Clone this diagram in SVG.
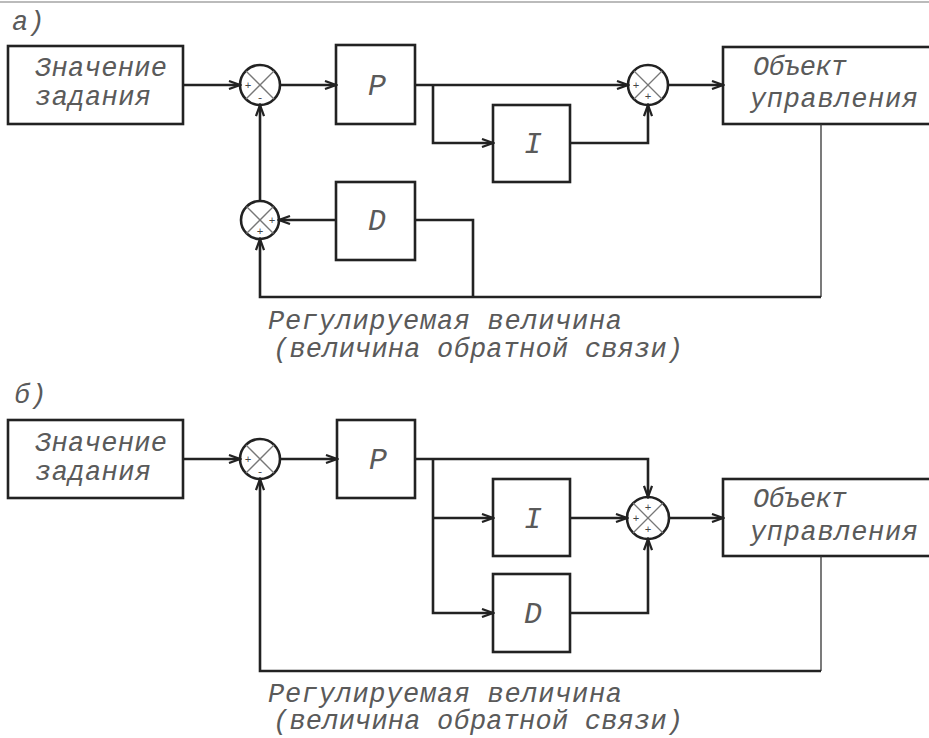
<svg xmlns="http://www.w3.org/2000/svg" width="929" height="738" viewBox="0 0 929 738">
<style>
.bg{fill:#fff}
.box{fill:#fff;stroke:#222;stroke-width:2.6}
.sum circle{fill:#fff;stroke:#222;stroke-width:2.6}
.sum line{stroke:#777;stroke-width:1.3}
.sign{font-family:"Liberation Mono","DejaVu Sans Mono",monospace;font-size:11px;fill:#444;text-anchor:middle}
.t{font-family:"Liberation Mono","DejaVu Sans Mono",monospace;font-style:italic;font-size:27px;fill:#5a5a5a}
.big{font-family:"Liberation Mono","DejaVu Sans Mono",monospace;font-style:italic;font-size:30px;fill:#5a5a5a;text-anchor:middle}
.w{fill:none;stroke:#222;stroke-width:2.6}
.thin{fill:none;stroke:#333;stroke-width:1.3}
.a{marker-end:url(#arr)}
</style>
<defs>
<marker id="arr" markerWidth="14" markerHeight="10" refX="12" refY="5" orient="auto" markerUnits="userSpaceOnUse">
<path d="M1,1 L12,5 L1,9" fill="none" stroke="#222" stroke-width="2.2"/>
</marker>
</defs>
<rect class="bg" x="0" y="0" width="929" height="738"/>
<line x1="0" y1="2" x2="929" y2="2" stroke="#bbb" stroke-width="2"/>

<text class="t" x="12" y="30">а)</text>
<text class="t" x="14" y="403">б)</text>

<!-- part a nodes -->
<g id="a-setpoint"><rect class="box" x="8" y="46" width="175" height="78"/>
<text class="t" x="35" y="76" textLength="132" lengthAdjust="spacing">Значение</text>
<text class="t" x="35" y="105" textLength="116" lengthAdjust="spacing">задания</text></g>
<g id="a-sum1" class="sum"><circle cx="260" cy="85" r="20"/><line x1="246" y1="71" x2="274" y2="99"/><line x1="274" y1="71" x2="246" y2="99"/>
<text class="sign" x="248" y="89">+</text><text class="sign" x="260" y="101">-</text></g>
<g id="a-P"><rect class="box" x="336" y="45" width="79" height="79"/><text class="big" x="377" y="95">P</text></g>
<g id="a-I"><rect class="box" x="493" y="105" width="77" height="77"/><text class="big" x="533" y="153">I</text></g>
<g id="a-D"><rect class="box" x="336" y="182" width="79" height="78"/><text class="big" x="377" y="230">D</text></g>
<g id="a-sum2" class="sum"><circle cx="260" cy="220" r="19"/><line x1="246.5" y1="206.5" x2="273.5" y2="233.5"/><line x1="273.5" y1="206.5" x2="246.5" y2="233.5"/>
<text class="sign" x="272" y="224">+</text><text class="sign" x="260" y="235">+</text></g>
<g id="a-sum3" class="sum"><circle cx="648" cy="85" r="20"/><line x1="634" y1="71" x2="662" y2="99"/><line x1="662" y1="71" x2="634" y2="99"/>
<text class="sign" x="636" y="89">+</text><text class="sign" x="648" y="100">+</text></g>
<g id="a-object"><rect class="box" x="723" y="47" width="220" height="77"/>
<text class="t" x="753" y="75" textLength="94" lengthAdjust="spacing">Объект</text>
<text class="t" x="750" y="107" textLength="168" lengthAdjust="spacing">управления</text></g>
<g id="a-label">
<text class="t" x="268" y="329" textLength="354" lengthAdjust="spacing">Регулируемая величина</text>
<text class="t" x="273" y="357" textLength="410" lengthAdjust="spacing">(величина обратной связи)</text></g>

<!-- part b nodes -->
<g id="b-setpoint"><rect class="box" x="8" y="420" width="175" height="78"/>
<text class="t" x="35" y="451" textLength="132" lengthAdjust="spacing">Значение</text>
<text class="t" x="35" y="480" textLength="116" lengthAdjust="spacing">задания</text></g>
<g id="b-sum1" class="sum"><circle cx="260" cy="459" r="20"/><line x1="246" y1="445" x2="274" y2="473"/><line x1="274" y1="445" x2="246" y2="473"/>
<text class="sign" x="248" y="463">+</text><text class="sign" x="260" y="475">-</text></g>
<g id="b-P"><rect class="box" x="337" y="420" width="78" height="78"/><text class="big" x="378" y="469">P</text></g>
<g id="b-I"><rect class="box" x="493" y="479" width="77" height="77"/><text class="big" x="533" y="528">I</text></g>
<g id="b-D"><rect class="box" x="493" y="574" width="77" height="78"/><text class="big" x="533" y="623">D</text></g>
<g id="b-sum2" class="sum"><circle cx="648" cy="518" r="21"/><line x1="633" y1="503" x2="663" y2="533"/><line x1="663" y1="503" x2="633" y2="533"/>
<text class="sign" x="648" y="511">+</text><text class="sign" x="636" y="522">+</text><text class="sign" x="648" y="533">+</text></g>
<g id="b-object"><rect class="box" x="723" y="479" width="220" height="77"/>
<text class="t" x="753" y="507" textLength="94" lengthAdjust="spacing">Объект</text>
<text class="t" x="750" y="540" textLength="168" lengthAdjust="spacing">управления</text></g>
<g id="b-label">
<text class="t" x="268" y="702" textLength="354" lengthAdjust="spacing">Регулируемая величина</text>
<text class="t" x="273" y="729" textLength="410" lengthAdjust="spacing">(величина обратной связи)</text></g>

<g id="connectors">
<!-- a -->
<path class="w a" d="M183,85 L240,85"/>
<path class="w a" d="M280,85 L336,85"/>
<path class="w a" d="M415,85 L628,85"/>
<path class="w a" d="M433,85 L433,143 L493,143"/>
<path class="w a" d="M570,143 L648,143 L648,105"/>
<path class="w a" d="M668,85 L723,85"/>
<path class="thin" d="M821,124 L821,297"/>
<path class="w a" d="M821,297 L260,297 L260,239"/>
<path class="w" d="M415,220 L473,220 L473,297"/>
<path class="w a" d="M336,220 L279,220"/>
<path class="w a" d="M260,201 L260,105"/>
<!-- b -->
<path class="w a" d="M183,459 L240,459"/>
<path class="w a" d="M280,459 L337,459"/>
<path class="w a" d="M415,459 L648,459 L648,497"/>
<path class="w a" d="M433,459 L433,613 L493,613"/>
<path class="w a" d="M433,518 L493,518"/>
<path class="w a" d="M570,518 L627,518"/>
<path class="w a" d="M570,613 L648,613 L648,539"/>
<path class="w a" d="M669,518 L723,518"/>
<path class="thin" d="M821,556 L821,671"/>
<path class="w a" d="M821,671 L260,671 L260,479"/>
</g>
</svg>
